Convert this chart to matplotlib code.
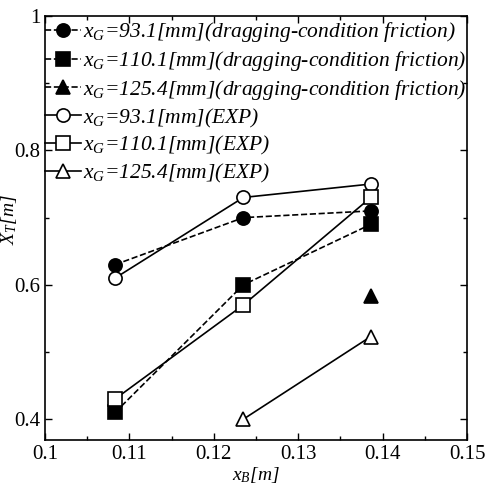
import matplotlib
matplotlib.use("Agg")
import matplotlib.pyplot as plt
from matplotlib.ticker import MultipleLocator

plt.rcParams['font.family'] = ['Liberation Serif', 'DejaVu Serif']
plt.rcParams['mathtext.fontset'] = 'custom'
plt.rcParams['mathtext.rm'] = 'Liberation Serif'
plt.rcParams['mathtext.it'] = 'Liberation Serif:italic'

xB = [0.1083, 0.1235, 0.1386]
sim_931 = [0.63, 0.70, 0.71]
sim_1101 = [0.41, 0.60, 0.69]
sim_1254_x = [0.1386]
sim_1254 = [0.583]
exp_931 = [0.61, 0.73, 0.75]
exp_1101 = [0.43, 0.57, 0.73]
exp_1254_x = [0.1235, 0.1386]
exp_1254 = [0.40, 0.523]

xticks = [0.1, 0.11, 0.12, 0.13, 0.14, 0.15]
xtick_labels = ['0.1', '0.11', '0.12', '0.13', '0.14', '0.15']
yticks = [0.4, 0.6, 0.8, 1.0]
ytick_labels = ['0.4', '0.6', '0.8', '1']

labels = [r"$x_G$=93.1[mm](dragging-condition friction)",
          r"$x_G$=110.1[mm](dragging-condition friction)",
          r"$x_G$=125.4[mm](dragging-condition friction)",
          r"$x_G$=93.1[mm](EXP)",
          r"$x_G$=110.1[mm](EXP)",
          r"$x_G$=125.4[mm](EXP)"]

fig = plt.figure(figsize=(4.86, 4.87), dpi=100)
ax = fig.add_axes([0.0926, 0.0965, 0.8684, 0.8705])

ms = 9.5
kw = dict(color='black', lw=1.2, markersize=ms, markeredgewidth=1.2)
ax.plot(xB, sim_931, 'o--', markerfacecolor='black', label=labels[0], **kw)
ax.plot(xB, sim_1101, 's--', markerfacecolor='black', label=labels[1], **kw)
ax.plot(sim_1254_x, sim_1254, '^--', markerfacecolor='black', label=labels[2], **kw)
ax.plot(xB, exp_931, 'o-', markerfacecolor='white', label=labels[3], **kw)
ax.plot(xB, exp_1101, 's-', markerfacecolor='white', label=labels[4], **kw)
ax.plot(exp_1254_x, exp_1254, '^-', markerfacecolor='white', label=labels[5], **kw)

ax.set_xlim(0.1, 0.15)
ax.set_ylim(0.369, 1.0)
ax.set_xticks(xticks)
ax.set_xticklabels(xtick_labels)
ax.xaxis.set_minor_locator(MultipleLocator(0.005))
ax.set_yticks(yticks)
ax.set_yticklabels(ytick_labels)
ax.yaxis.set_minor_locator(MultipleLocator(0.1))
ax.tick_params(which='both', direction='in', top=True, right=True, labelsize=15, width=1)
ax.tick_params(which='major', length=5)
ax.tick_params(which='minor', length=3)
for s in ax.spines.values():
    s.set_linewidth(1.2)

ax.set_xlabel(r"$x_B$[m]", fontsize=14, style='italic', labelpad=1)
ax.set_ylabel(r"$X_T$[m]", fontsize=14, style='italic')
ax.yaxis.set_label_coords(-0.062, 0.52)

leg = ax.legend(loc='upper left', bbox_to_anchor=(0.0, 0.99), frameon=False,
                borderaxespad=0, borderpad=0,
                handlelength=1.65, handletextpad=0.12, labelspacing=0.22,
                prop={'family': 'Liberation Serif', 'style': 'italic', 'size': 15.5})

fig.savefig('out.png', dpi=100)
